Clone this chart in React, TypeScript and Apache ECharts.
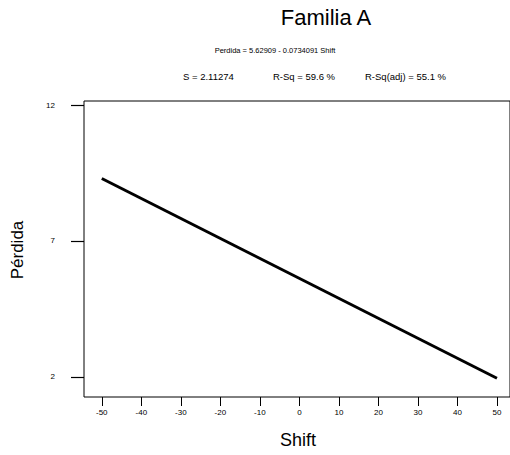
import React, { useEffect, useRef } from "react";
import * as echarts from "echarts";

const title = "Familia A";
const equation = "Perdida = 5.62909 - 0.0734091 Shift";
const statS = "S = 2.11274";
const statRSq = "R-Sq = 59.6 %";
const statRSqAdj = "R-Sq(adj) = 55.1 %";
const xName = "Shift";
const yName = "Pérdida";

const xTicks = [-50, -40, -30, -20, -10, 0, 10, 20, 30, 40, 50];
const yTicks = [2, 7, 12];

const shiftValues = [-50, 50];
const perdidaValues = [9.3, 1.95];

const FONT = "Liberation Sans, Arial, sans-serif";

export default function App() {
  const ref = useRef<HTMLDivElement>(null);
  useEffect(() => {
    if (!ref.current) return;
    const chart = echarts.init(ref.current, null, { renderer: "svg" });
    chart.setOption({
      animation: false,
      backgroundColor: "#ffffff",
      textStyle: { fontFamily: FONT, color: "#000" },
      grid: {
        show: true,
        left: 84,
        top: 101,
        right: -1,
        bottom: 58,
        borderColor: "#000",
        borderWidth: 1,
        backgroundColor: "transparent",
      },
      xAxis: {
        type: "value",
        min: -54.5,
        max: 53.3,
        axisLine: { show: false, onZero: false },
        splitLine: { show: false },
        axisTick: {
          show: true,
          inside: false,
          length: 9,
          customValues: xTicks,
          lineStyle: { color: "#000", width: 1 },
        },
        axisLabel: {
          customValues: xTicks,
          margin: 11,
          fontSize: 8,
          color: "#000",
          fontFamily: FONT,
          showMinLabel: true,
          showMaxLabel: true,
        },
      },
      yAxis: {
        type: "value",
        min: 1.26,
        max: 12.15,
        axisLine: { show: false, onZero: false },
        splitLine: { show: false },
        axisTick: {
          show: true,
          inside: false,
          length: 13,
          customValues: yTicks,
          lineStyle: { color: "#000", width: 1.2 },
        },
        axisLabel: {
          customValues: yTicks,
          margin: 29,
          fontSize: 8,
          color: "#000",
          fontFamily: FONT,
        },
      },
      series: [
        {
          type: "line",
          data: shiftValues.map((x, i) => [x, perdidaValues[i]]),
          symbol: "none",
          lineStyle: { color: "#000", width: 3 },
        },
      ],
      graphic: [
        {
          type: "text",
          x: 326,
          y: 17,
          style: { text: title, fontSize: 22, fontFamily: FONT, fill: "#000", textAlign: "center", textVerticalAlign: "middle" },
        },
        {
          type: "text",
          x: 275,
          y: 50,
          style: { text: equation, fontSize: 7.5, fontFamily: FONT, fill: "#000", textAlign: "center", textVerticalAlign: "middle" },
        },
        {
          type: "text",
          x: 183,
          y: 76,
          style: { text: statS, fontSize: 9.5, fontFamily: FONT, fill: "#000", textAlign: "left", textVerticalAlign: "middle" },
        },
        {
          type: "text",
          x: 273,
          y: 76,
          style: { text: statRSq, fontSize: 9.5, fontFamily: FONT, fill: "#000", textAlign: "left", textVerticalAlign: "middle" },
        },
        {
          type: "text",
          x: 365,
          y: 76,
          style: { text: statRSqAdj, fontSize: 9.5, fontFamily: FONT, fill: "#000", textAlign: "left", textVerticalAlign: "middle" },
        },
        {
          type: "text",
          x: 17,
          y: 250,
          rotation: Math.PI / 2,
          style: { text: yName, fontSize: 17, fontFamily: FONT, fill: "#000", textAlign: "center", textVerticalAlign: "middle" },
        },
        {
          type: "text",
          x: 298,
          y: 440,
          style: { text: xName, fontSize: 18, fontFamily: FONT, fill: "#000", textAlign: "center", textVerticalAlign: "middle" },
        },
      ],
    });
    return () => chart.dispose();
  }, []);
  return (
    <div
      ref={ref}
      style={{ position: "fixed", left: 0, top: 0, width: 510, height: 455 }}
    />
  );
}
